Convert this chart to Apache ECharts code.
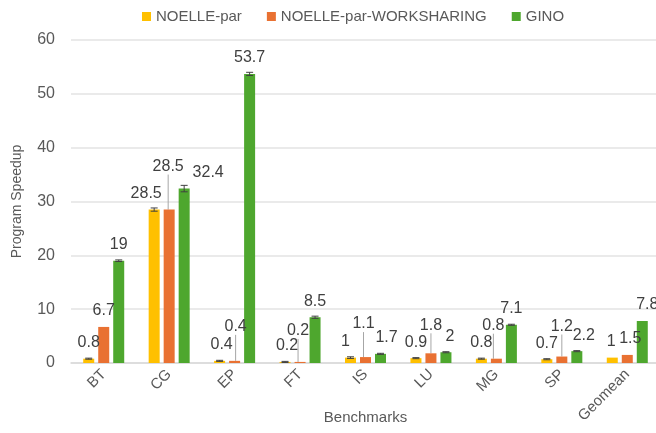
<!DOCTYPE html>
<html>
<head>
<meta charset="utf-8">
<script src="https://cdn.jsdelivr.net/npm/echarts@6/dist/echarts.min.js"></script>
<style>
html, body { margin: 0; padding: 0; background: #fff; }
#chart { width: 656px; height: 433px; }
</style>
</head>
<body>
<div id="chart"></div>
<script>
// chart data
var benchmarks = ['BT', 'CG', 'EP', 'FT', 'IS', 'LU', 'MG', 'SP', 'Geomean'];
var seriesNames = ['NOELLE-par', 'NOELLE-par-WORKSHARING', 'GINO'];
var noellePar = [0.8, 28.5, 0.4, 0.2, 1, 0.9, 0.8, 0.7, 1];
var noelleWs = [6.7, 28.5, 0.4, 0.2, 1.1, 1.8, 0.8, 1.2, 1.5];
var gino = [19, 32.4, 53.7, 8.5, 1.7, 2, 7.1, 2.2, 7.8];
// error bar half-widths (estimated)
var noelleParErr = [0.1, 0.3, 0.1, 0.1, 0.15, 0.1, 0.1, 0.1, 0];
var noelleWsErr = [0, 0, 0, 0, 0, 0, 0, 0, 0];
var ginoErr = [0.15, 0.6, 0.3, 0.2, 0.1, 0.1, 0.1, 0.1, 0];
var yTicks = [0, 10, 20, 30, 40, 50, 60];

var colors = ['#FFC000', '#E97132', '#4EA72E'];
var textColor = '#595959';
var labelColor = '#404040';
var fontFamily = '"Liberation Sans", Arial, sans-serif';
var barW = 11, barStep = 15;

// label moves in px, [dx, dy] per series per category (Excel placement)
var labelMoves = [
    [[0, 0], [-8, 0], [2, 0], [2, 0], [-5, 0], [0, 0], [0, 0], [0, 0], [-1, 0]],
    [[0, 0], [-1, -27], [1, -18], [-2, -15], [-2, -17], [0, -12], [-3, -17], [0, -14], [3, 0]],
    [[0, 0], [24, 0], [0, 0], [0, 0], [6, 0], [4, 0], [0, 0], [7, 0], [5, 0]]
];

function barSeries(idx, values) {
    var data = [];
    for (var i = 0; i < values.length; i++) {
        // leader line only where the label was pulled away from its bar
        data.push({ value: values[i], labelLine: { show: idx == 1 && labelMoves[idx][i][1] != 0 } });
    }
    return {
        name: seriesNames[idx],
        type: 'bar',
        data: data,
        barWidth: barW,
        barGap: ((barStep - barW) / barW * 100) + '%',
        itemStyle: { color: colors[idx] },
        label: {
            show: true,
            position: 'top',
            distance: 8,
            color: labelColor,
            fontSize: 16,
            fontFamily: fontFamily
        },
        labelLine: {
            show: false,
            lineStyle: { color: '#A6A6A6', width: 1 }
        },
        labelLayout: function (p) {
            var m = labelMoves[idx][p.dataIndex];
            return { dx: m[0], dy: m[1] };
        },
        z: 2
    };
}

function errSeries(idx, values, errs) {
    var data = [];
    for (var i = 0; i < values.length; i++) {
        data.push([i, values[i], errs[i]]);
    }
    return {
        type: 'custom',
        data: data,
        z: 5,
        silent: true,
        renderItem: function (params, api) {
            var e = api.value(2);
            if (!e) return null;
            var v = api.value(1);
            var top = api.coord([api.value(0), v + e]);
            var bot = api.coord([api.value(0), v - e]);
            var x = top[0] + (idx - 1) * barStep;
            var style = { stroke: '#404040', lineWidth: 1 };
            return {
                type: 'group',
                children: [
                    { type: 'line', shape: { x1: x, y1: top[1], x2: x, y2: bot[1] }, style: style },
                    { type: 'line', shape: { x1: x - 3.5, y1: top[1], x2: x + 3.5, y2: top[1] }, style: style },
                    { type: 'line', shape: { x1: x - 3.5, y1: bot[1], x2: x + 3.5, y2: bot[1] }, style: style }
                ]
            };
        }
    };
}

var myChart = echarts.init(document.getElementById('chart'));
myChart.setOption({
    animation: false,
    textStyle: { fontFamily: fontFamily },
    legend: {
        data: seriesNames,
        top: 4,
        left: 137,
        itemWidth: 9,
        itemHeight: 9,
        itemGap: 25,
        icon: 'rect',
        textStyle: { color: textColor, fontSize: 15, fontFamily: fontFamily }
    },
    grid: { left: 71, right: -4, top: 40, bottom: 70, containLabel: false, outerBoundsMode: 'none' },
    xAxis: {
        type: 'category',
        data: benchmarks,
        name: 'Benchmarks',
        nameLocation: 'middle',
        nameGap: 47,
        nameMoveOverlap: false,
        nameTextStyle: { color: textColor, fontSize: 15 },
        axisTick: { show: false },
        axisLine: { lineStyle: { color: '#D9D9D9', width: 1.5 } },
        axisLabel: { color: textColor, fontSize: 15, rotate: 45, margin: 9, interval: 0 }
    },
    yAxis: {
        type: 'value',
        min: yTicks[0],
        max: yTicks[yTicks.length - 1],
        interval: yTicks[1] - yTicks[0],
        name: 'Program Speedup',
        nameLocation: 'middle',
        nameGap: 47,
        nameMoveOverlap: false,
        nameTextStyle: { color: textColor, fontSize: 14 },
        axisLine: { show: false },
        axisTick: { show: false },
        axisLabel: { color: textColor, fontSize: 16, margin: 16 },
        splitLine: { lineStyle: { color: '#E3E3E3', width: 1.5 } }
    },
    series: [
        barSeries(0, noellePar),
        barSeries(1, noelleWs),
        barSeries(2, gino),
        errSeries(0, noellePar, noelleParErr),
        errSeries(1, noelleWs, noelleWsErr),
        errSeries(2, gino, ginoErr)
    ]
});
window.onresize = myChart.resize;
</script>
</body>
</html>
